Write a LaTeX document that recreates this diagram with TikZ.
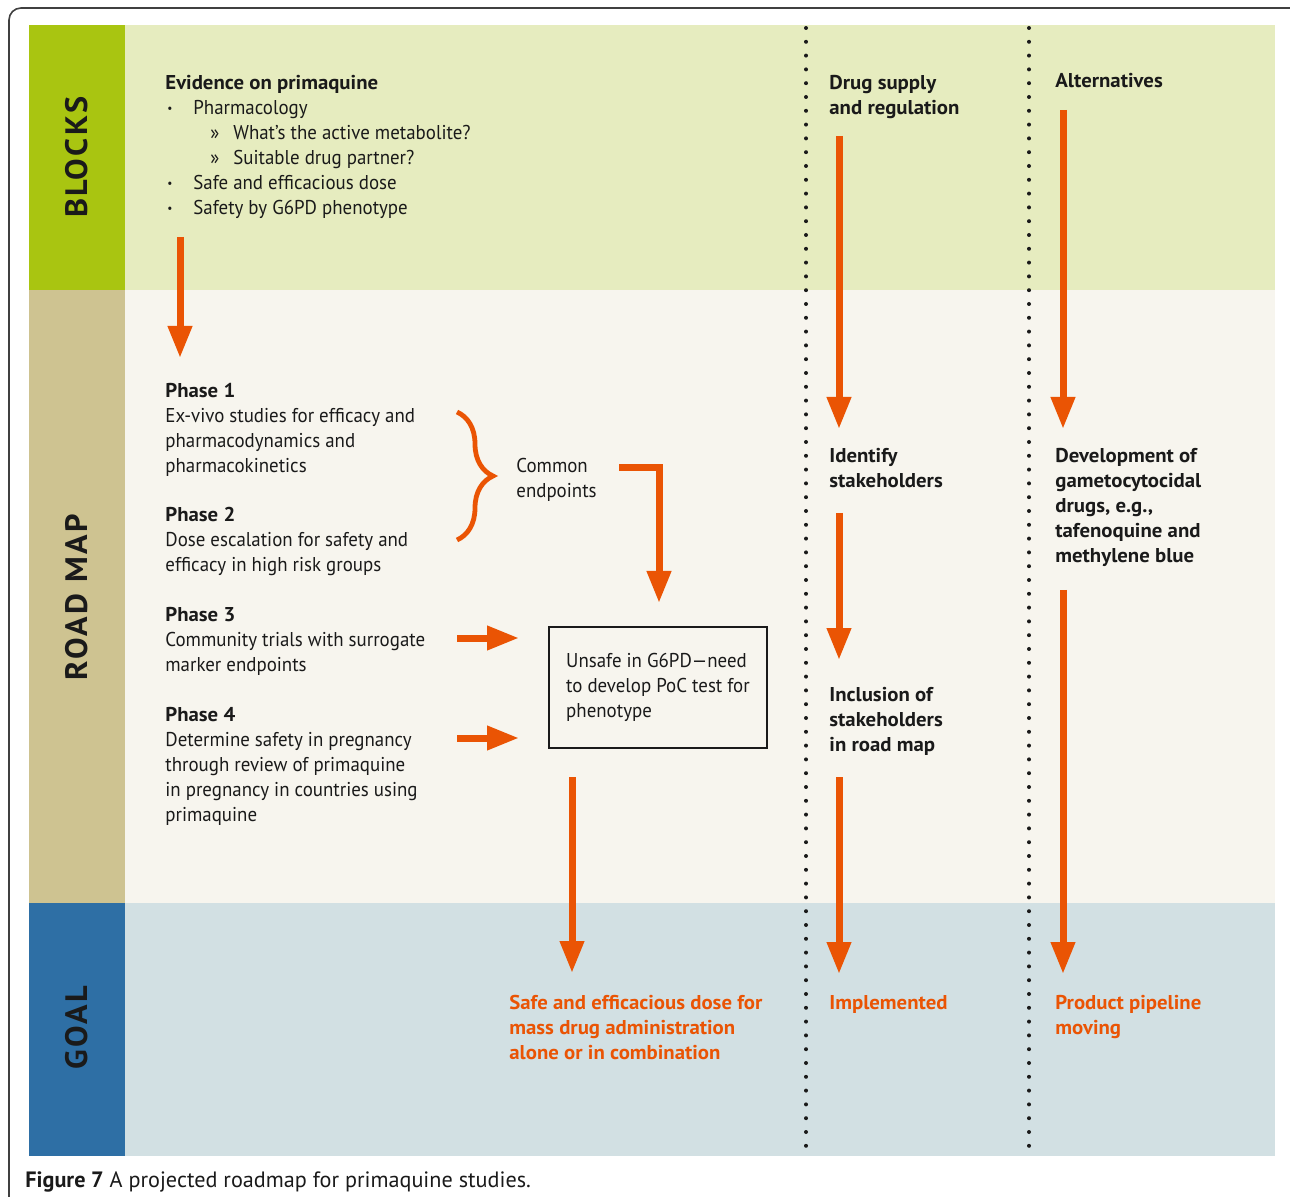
\documentclass[tikz,border=0pt]{standalone}
\usepackage{fontspec}
\setmainfont{PT Sans}[UprightFeatures={FakeStretch=0.945}, BoldFeatures={FakeStretch=1.04}]
\newfontfamily\capfont{PT Sans}
\usetikzlibrary{arrows.meta,decorations.pathreplacing}

\definecolor{blkband}{HTML}{A9C511}
\definecolor{blkbg}{HTML}{E6ECBF}
\definecolor{mapband}{HTML}{CEC391}
\definecolor{mapbg}{HTML}{F7F5EE}
\definecolor{goalband}{HTML}{2E6FA5}
\definecolor{goalbg}{HTML}{D2E0E3}
\definecolor{flowor}{HTML}{EA5404}
\definecolor{ink}{HTML}{1A1A1A}

\newcommand{\blt}{\makebox[14pt][l]{\hspace*{1pt}\raisebox{0.25ex}{\fontsize{6}{6}\selectfont•}}}
\newcommand{\subblt}{\hspace*{22.5pt}\makebox[11.5pt][l]{»}}

\tikzset{
  txt/.style={anchor=north west, inner sep=0pt, align=left, text=ink,
    font=\fontsize{10}{12.5}\selectfont},
  hd/.style={txt, font=\fontsize{10}{12.5}\selectfont\bfseries},
  goaltxt/.style={txt, text=flowor, font=\fontsize{10}{12.5}\selectfont\bfseries},
  bandlbl/.style={rotate=90, inner sep=0pt, text=ink,
    font=\fontsize{15.5}{18}\selectfont\bfseries\addfontfeature{LetterSpace=8}},
  flow/.style={draw=flowor, line width=3.5pt, -{Triangle[width=11.5pt,length=16pt]}},
  sep/.style={draw=ink, line width=2pt, line cap=round, dash pattern=on 0pt off 6.9pt},
}

\begin{document}
\begin{tikzpicture}[x=0.5pt, y=-0.5pt]
\useasboundingbox (0,0) rectangle (1290,1197);

% frame and bands
\draw[rounded corners=6pt, line width=0.8pt, draw=black!75] (9,8) rectangle (1302,1260);
\foreach \ya/\yb/\band/\bg in {25/290/blkband/blkbg, 290/903/mapband/mapbg, 903/1156/goalband/goalbg}
{
	\fill[\band] (29,\ya) rectangle (125,\yb);
	\fill[\bg] (125,\ya) rectangle (1275,\yb);
}
\foreach \x in {806, 1029}
{
	\draw[sep] (\x,28) -- (\x,1152);
}

\path (77,157) node[bandlbl] (lblocks) {BLOCKS};
\path (77,597) node[bandlbl] (lroad) {ROAD MAP};
\path (77,1028) node[bandlbl] (lgoal) {GOAL};

% left column
\path (165,75) node[txt] (evid) {\textbf{Evidence on primaquine}\\
\blt Pharmacology\\
\subblt What’s the active metabolite?\\
\subblt Suitable drug partner?\\
\blt Safe and efficacious dose\\
\blt Safety by G6PD phenotype};

\path (165,383) node[txt] (ph1) {\textbf{Phase 1}\\Ex-vivo studies for efficacy and\\pharmacodynamics and\\pharmacokinetics};
\path (165,507) node[txt] (ph2) {\textbf{Phase 2}\\Dose escalation for safety and\\efficacy in high risk groups};
\path (165,607) node[txt] (ph3) {\textbf{Phase 3}\\Community trials with surrogate\\marker endpoints};
\path (165,707) node[txt] (ph4) {\textbf{Phase 4}\\Determine safety in pregnancy\\through review of primaquine\\in pregnancy in countries using\\primaquine};
\path (516,458) node[txt] (common) {Common\\endpoints};

\node[draw=ink, line width=1pt, minimum width=109pt, minimum height=60.5pt,
  inner sep=0pt, align=left, text=ink, font=\fontsize{10}{12.5}\selectfont] (unsafe) at (658,687.5)
  {Unsafe in G6PD—need\\to develop PoC test for\\phenotype};

% right columns
\path (829,75) node[hd] (drug) {Drug supply\\and regulation};
\path (1055,73) node[hd] (alt) {Alternatives};
\path (829,448) node[hd] (ident) {Identify\\stakeholders};
\path (829,687) node[hd] (incl) {Inclusion of\\stakeholders\\in road map};
\path (1055,448) node[hd] (devel) {Development of\\gametocytocidal\\drugs, e.g.,\\tafenoquine and\\methylene blue};

% goals
\path (509,995) node[goaltxt] (gsafe) {Safe and efficacious dose for\\mass drug administration\\alone or in combination};
\path (829,995) node[goaltxt] (gimpl) {Implemented};
\path (1055,995) node[goaltxt] (gpipe) {Product pipeline\\moving};

\path (25,1187) node[anchor=base west, inner sep=0pt, text=ink, font=\capfont\fontsize{11.1}{13}\selectfont] (caption)
  {\textbf{Figure 7} A projected roadmap for primaquine studies.};

% arrows
\coordinate (evid-out) at (180,237);
\coordinate (ph1-in) at (180,358);
\coordinate (br-top) at (457,412);
\coordinate (br-bot) at (457,540);
\coordinate (common-out) at (619,468);
\coordinate (unsafe-top) at (659,603);
\coordinate (ph3-out) at (457,638);
\coordinate (unsafe-w3) at (519,638);
\coordinate (ph4-out) at (457,738);
\coordinate (unsafe-w4) at (519,738);
\coordinate (unsafe-out) at (572,777);
\coordinate (gsafe-in) at (572,973);
\coordinate (drug-out) at (839,136);
\coordinate (ident-in) at (839,429);
\coordinate (ident-out) at (839,513);
\coordinate (incl-in) at (839,660);
\coordinate (incl-out) at (839,777);
\coordinate (gimpl-in) at (839,974);
\coordinate (alt-out) at (1063,110);
\coordinate (devel-in) at (1063,429);
\coordinate (devel-out) at (1063,590);
\coordinate (gpipe-in) at (1063,974);

\draw[draw=flowor, line width=2.4pt, decorate, decoration={brace, amplitude=18pt}] (br-top) -- (br-bot);
\draw[flow] (evid-out) -- (ph1-in);
\draw[flow] (common-out) -| (unsafe-top);
\draw[flow] (ph3-out) -- (unsafe-w3);
\draw[flow] (ph4-out) -- (unsafe-w4);
\draw[flow] (unsafe-out) -- (gsafe-in);
\draw[flow] (drug-out) -- (ident-in);
\draw[flow] (ident-out) -- (incl-in);
\draw[flow] (incl-out) -- (gimpl-in);
\draw[flow] (alt-out) -- (devel-in);
\draw[flow] (devel-out) -- (gpipe-in);

\end{tikzpicture}
\end{document}
